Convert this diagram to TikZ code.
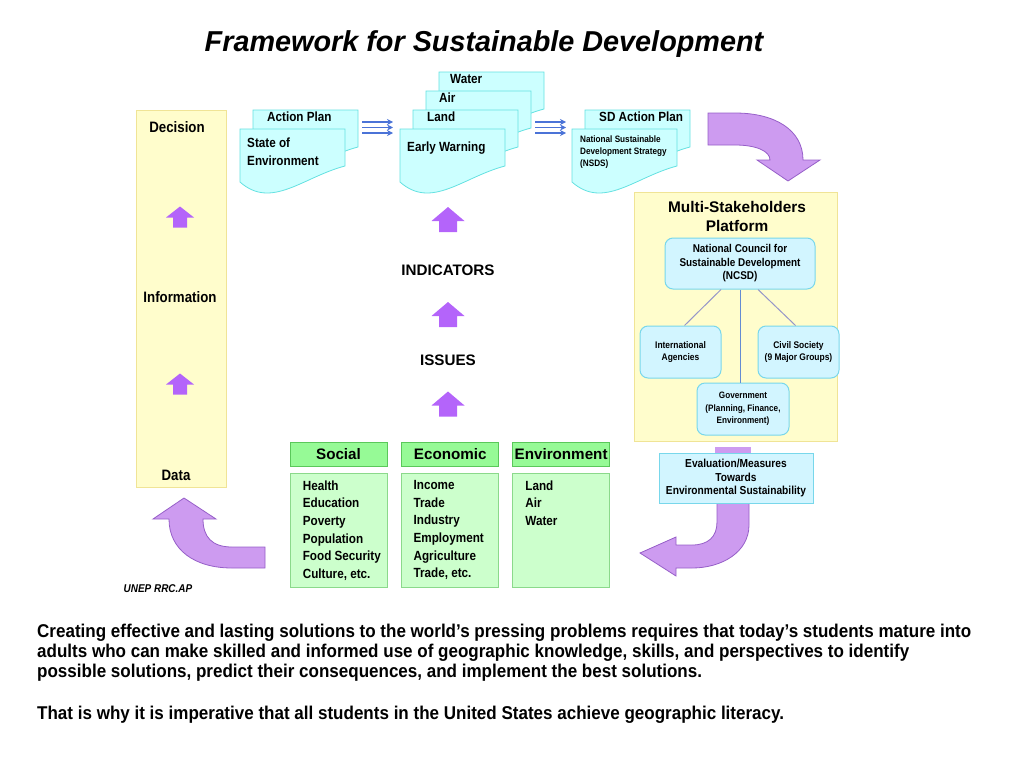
\documentclass[tikz,border=0pt]{standalone}
\usepackage{fontspec}
\setmainfont{Liberation Sans}
\newfontfamily\condfont{Liberation Sans}[FakeStretch=0.88]
\newfontfamily\parafont{Liberation Sans}[FakeStretch=0.92]
\usetikzlibrary{positioning,arrows.meta}

\definecolor{colyellow}{RGB}{255,253,204}
\definecolor{colyellowline}{RGB}{240,228,150}
\definecolor{colcyan}{RGB}{204,255,255}
\definecolor{colcyanline}{RGB}{100,225,225}
\definecolor{colsky}{RGB}{210,245,255}
\definecolor{colskyline}{RGB}{120,215,235}
\definecolor{colgreen}{RGB}{150,250,150}
\definecolor{colgreenline}{RGB}{90,200,90}
\definecolor{collightgreen}{RGB}{204,255,204}
\definecolor{colviolet}{RGB}{180,100,250}
\definecolor{collilac}{RGB}{205,155,240}
\definecolor{collilacline}{RGB}{150,95,200}
\definecolor{colblue}{RGB}{75,115,215}
\definecolor{collink}{RGB}{150,150,200}
\definecolor{colcenter}{RGB}{100,140,210}

\newcommand{\fsz}[2]{\fontsize{#1}{#2}\selectfont}
\newcommand{\docpage}[2]{%
  \filldraw[docbox] (#1,#2) -- (#1+105,#2) -- (#1+105,#2+37)
    .. controls (#1+63,#2+48) and (#1+31.5,#2+81) .. (#1,#2+53) -- cycle;}

\begin{document}
\begin{tikzpicture}[x=1pt, y=-1pt,
    every node/.style={inner sep=0pt},
    yellowbox/.style={draw=colyellowline, fill=colyellow, line width=1pt},
    docbox/.style={draw=colcyanline, fill=colcyan, line width=0.8pt},
    skybox/.style={draw=colskyline, fill=colsky, line width=1pt, align=center, font=\condfont\bfseries\fsz{11.3}{13.5}},
    head/.style={draw=colgreenline, fill=colgreen, line width=0.8pt, minimum width=97pt, minimum height=24pt, font=\bfseries\fsz{15.2}{18}},
    listbox/.style={draw=colgreenline!70, fill=collightgreen, line width=0.8pt, minimum width=97pt, minimum height=114pt},
    listtext/.style={align=left, font=\condfont\bfseries\fsz{13.3}{17.6}},
    doctext/.style={align=left, font=\condfont\bfseries\fsz{13.3}{18}},
    stage/.style={font=\condfont\bfseries\fsz{15.1}{18}},
    level/.style={font=\bfseries\fsz{15.2}{18}},
    bigarrow/.style={draw=collilacline, fill=collilac, line width=0.8pt}]
    \useasboundingbox (0,0) rectangle (1024,768);

    % Title
    \node[font=\bfseries\itshape\fsz{28.8}{34}] (title) at (484,44) {Framework for Sustainable Development};

    % Decision column
    \node[yellowbox, minimum width=90pt, minimum height=377pt] (pyramid) at (181,298.5) {};
    \node[stage] (decision) at (177,127) {Decision};
    \node[stage] (information) at (180,297) {Information};
    \node[stage] (data) at (176,475) {Data};
    \foreach \ay in {217,384}
        \fill[colviolet, shift={(180,\ay)}] (-7,10.5) -- (7,10.5) -- (7,0.5) -- (14,0.5) -- (0,-10.5) -- (-14,0.5) -- (-7,0.5) -- cycle;

    % Documents
    \docpage{253}{110}
    \docpage{240}{129}
    \docpage{439}{72}
    \docpage{426}{91}
    \docpage{413}{110}
    \docpage{400}{129}
    \docpage{585}{110}
    \docpage{572}{129}
    \node[doctext, anchor=west] (actionplan) at (267,117) {Action Plan};
    \node[doctext, anchor=west] (stateenv) at (247,152) {State of\\Environment};
    \node[doctext, anchor=west] (water) at (450,79) {Water};
    \node[doctext, anchor=west] (air) at (439,98) {Air};
    \node[doctext, anchor=west] (land) at (427,117) {Land};
    \node[doctext, anchor=west] (earlywarn) at (407,148) {Early Warning};
    \node[doctext, anchor=west] (sdplan) at (599,117) {SD Action Plan};
    \node[align=left, anchor=west, font=\condfont\bfseries\fsz{9.3}{12}] (nsds) at (580,152) {National Sustainable\\Development Strategy\\(NSDS)};

    % Flow arrows between documents
    \coordinate (flowa) at (362,127.5);
    \coordinate (flowb) at (535,127.5);
    \foreach \c in {flowa,flowb}
        \foreach \dy in {-5.5,0,5.5}
            \draw[colblue, line width=1.2pt, -{Stealth[length=6pt,width=6pt]}] ([yshift=\dy pt]\c) -- ++(31,0);

    % Indicators and issues
    \node[level] (indicators) at (448,270) {INDICATORS};
    \node[level] (issues) at (448,360) {ISSUES};
    \foreach \ay in {219.5,314.5,404}
        \fill[colviolet, shift={(448,\ay)}] (-9,12.5) -- (9,12.5) -- (9,1.5) -- (16.5,1.5) -- (0,-12.5) -- (-16.5,1.5) -- (-9,1.5) -- cycle;

    % Social, economic, environment
    \node[head] (social) at (338.5,454) {Social};
    \node[head, right=14pt of social] (economic) {Economic};
    \node[head, right=13pt of economic] (environment) {Environment};
    \node[listbox, below=7pt of social] (socialbody) {};
    \node[listbox, below=7pt of economic] (economicbody) {};
    \node[listbox, below=7pt of environment] (environmentbody) {};
    \node[listtext, anchor=north west] (sociallist) at ([xshift=13pt, yshift=-7pt]socialbody.north west) {Health\\Education\\Poverty\\Population\\Food Security\\Culture, etc.};
    \node[listtext, anchor=north west] (economiclist) at ([xshift=12pt, yshift=-7pt]economicbody.north west) {Income\\Trade\\Industry\\Employment\\Agriculture\\Trade, etc.};
    \node[listtext, anchor=north west] (environmentlist) at ([xshift=13pt, yshift=-7pt]environmentbody.north west) {Land\\Air\\Water};
    \node[font=\condfont\bfseries\itshape\fsz{11.3}{13}] (source) at (158,589) {UNEP RRC.AP};

    % Big curved arrows
    \filldraw[bigarrow] (708,113) -- (735,113) .. controls (775,113) and (803,130) .. (803,160) -- (820,160) -- (788,181) -- (757,160) -- (770,160) .. controls (770,151) and (756,145) .. (735,145) -- (708,145) -- cycle;
    \filldraw[bigarrow] (717,495) -- (749,495) -- (749,525) .. controls (749,552) and (722,568) .. (692,568) -- (676,568) -- (676,576) -- (640,553) -- (676,537) -- (676,545) -- (692,545) .. controls (708,545) and (717,537) .. (717,522) -- cycle;
    \filldraw[bigarrow] (265,547) -- (232,547) .. controls (212,547) and (203,537) .. (203,519) -- (216,519) -- (184,498) -- (153,519) -- (169,519) .. controls (169,550) and (195,568) .. (232,568) -- (265,568) -- cycle;

    % Multi-stakeholders platform
    \node[yellowbox, minimum width=203pt, minimum height=249pt] (platform) at (735.5,316.5) {};
    \node[align=center, font=\bfseries\fsz{15.4}{19}] (plattitle) at (737,216.5) {Multi-Stakeholders\\Platform};
    \node[skybox, rounded corners=8pt, minimum width=150pt, minimum height=51pt] (ncsd) at (740,263.5) {National Council for\\Sustainable Development\\(NCSD)};
    \node[skybox, rounded corners=8pt, minimum width=81pt, minimum height=52pt, font=\condfont\bfseries\fsz{9.6}{12}] (intl) at (680.5,352) {International\\Agencies};
    \node[skybox, rounded corners=8pt, minimum width=81pt, minimum height=52pt, font=\condfont\bfseries\fsz{9.6}{12}] (civil) at (798.5,352) {Civil Society\\(9 Major Groups)};
    \node[skybox, rounded corners=8pt, minimum width=92pt, minimum height=52pt, font=\condfont\bfseries\fsz{9.3}{12.5}] (gov) at (743,409) {Government\\(Planning, Finance,\\Environment)};
    \draw[collink, line width=1pt] ([xshift=-19pt]ncsd.south) -- ([xshift=4pt]intl.north);
    \draw[colcenter, line width=1pt] (ncsd.south) -- (ncsd.south |- gov.north);
    \draw[collink, line width=1pt] ([xshift=18pt]ncsd.south) -- ([xshift=-3pt]civil.north);

    % Evaluation
    \fill[collilac] (715,447) rectangle (751,458);
    \node[skybox, minimum width=154pt, minimum height=50pt, font=\condfont\bfseries\fsz{11.6}{13.5}] (evaluation) at (736,478) {Evaluation/Measures\\Towards\\Environmental Sustainability};

    % Caption
    \node[align=left, anchor=north west, font=\parafont\bfseries\fsz{18.5}{20}] (caption) at (37,624) {Creating effective and lasting solutions to the world’s pressing problems requires that today’s students mature into\\adults who can make skilled and informed use of geographic knowledge, skills, and perspectives to identify\\possible solutions, predict their consequences, and implement the best solutions.\\[22pt]That is why it is imperative that all students in the United States achieve geographic literacy.};
\end{tikzpicture}
\end{document}
